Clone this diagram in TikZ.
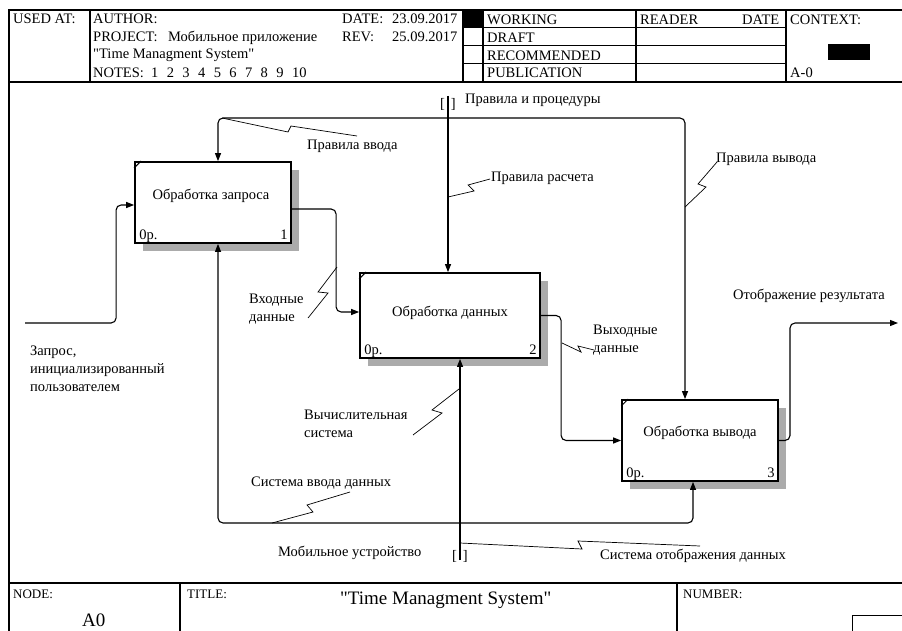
\documentclass[tikz,border=0pt]{standalone}
\usepackage{fontspec}
\setmainfont{Liberation Serif}[Ligatures=TeXOff]
\usetikzlibrary{arrows.meta,shadows}
\newcommand\lblfont{\fontsize{14.5}{18}\selectfont}
\newcommand\footfont{\fontsize{13}{15}\selectfont}
\newcommand\bigfont{\fontsize{19}{22}\selectfont}
\newcommand\qq{\char34\relax}
\newcommand\gp{\hspace{8.4pt}}
\tikzset{
  frame/.style={line width=1.2pt},
  thinline/.style={line width=1pt},
  fnbox/.style={draw, line width=1.8pt, fill=white, inner sep=0pt,
     general shadow={fill=black!33, shadow xshift=8pt, shadow yshift=-8pt}},
  arr/.style={line width=1.1pt, rounded corners=5pt, -{Triangle[length=8pt,width=6pt]}},
  zig/.style={line width=0.7pt},
  notch/.style={line width=1pt},
  txt/.style={font=\lblfont, inner sep=0pt, anchor=base west},
  mtxt/.style={font=\lblfont, inner sep=0pt, anchor=north west, align=left},
  ftxt/.style={font=\footfont, inner sep=0pt, anchor=base west},
  brk/.style={font=\lblfont, inner sep=0pt},
}
\begin{document}
\begin{tikzpicture}[x=1pt,y=-1pt]
\useasboundingbox (0,0) rectangle (902,631);
% ---------- frame ----------
\draw[frame] (9,640) -- (9,10) -- (910,10);
\draw[frame] (9,82) -- (910,82);
\draw[frame] (9,583) -- (910,583);
\draw[frame] (90,10) -- (90,82);
\draw[frame] (463,10) -- (463,82);
\draw[frame] (483,10) -- (483,82);
\draw[frame] (636,10) -- (636,82);
\draw[frame] (786,10) -- (786,82);
\foreach \yy in {28,46,64} \draw[thinline] (463,\yy) -- (786,\yy);
\fill (464,10) rectangle (483,28);
\fill (828,44) rectangle (870,60);
\draw[frame] (180,583) -- (180,640);
\draw[frame] (677,583) -- (677,640);
\draw[thinline] (852,640) |- (910,615);
% ---------- header texts ----------
\node[txt] (hused) at (13,24) {USED AT:};
\node[txt] (hauth) at (93,24) {AUTHOR:};
\node[txt] (hproj) at (93,42) {PROJECT:};
\node[txt] (hprojn) at (168,42) {Мобильное приложение};
\node[txt] (hproj2) at (93,59) {\qq Time Managment System\qq};
\node[txt] (hnotes) at (93,78) {NOTES:\ \ 1\gp 2\gp 3\gp 4\gp 5\gp 6\gp 7\gp 8\gp 9\gp 10};
\node[txt] (hdate) at (342,24) {DATE:};
\node[txt] (hdatev) at (392,24) {23.09.2017};
\node[txt] (hrev) at (342,42) {REV:};
\node[txt] (hrevv) at (392,42) {25.09.2017};
\node[txt] (hwork) at (487,25) {WORKING};
\node[txt] (hdraft) at (487,43) {DRAFT};
\node[txt] (hrec) at (487,61) {RECOMMENDED};
\node[txt] (hpub) at (487,78) {PUBLICATION};
\node[txt] (hread) at (640,25) {READER};
\node[txt] (hrdate) at (742,25) {DATE};
\node[txt] (hctx) at (790,25) {CONTEXT:};
\node[txt] (hctxa) at (790,78) {A-0};
% ---------- footer texts ----------
\node[ftxt] (fnode) at (13,598) {NODE:};
\node[txt, font=\bigfont] (fa0) at (82,626) {A0};
\node[ftxt] (ftitle) at (187,598) {TITLE:};
\node[txt, font=\bigfont] (ftitlev) at (340,604) {\qq Time Managment System\qq};
\node[ftxt] (fnum) at (683,598) {NUMBER:};
% ---------- function boxes ----------
\node[fnbox, minimum width=156pt, minimum height=81pt] (b1) at (213,202.5) {};
\node[fnbox, minimum width=180pt, minimum height=85pt] (b2) at (450,315.5) {};
\node[fnbox, minimum width=156pt, minimum height=81pt] (b3) at (700,440.5) {};
\foreach \b in {b1,b2,b3}
  \draw[notch] ([yshift=-7pt]\b.north west) -- ([xshift=7pt]\b.north west);
\node[txt, anchor=center] (t1) at (211,196) {Обработка запроса};
\node[txt, anchor=center] (t2) at (450,313) {Обработка данных};
\node[txt, anchor=center] (t3) at (700,433) {Обработка вывода};
\node[txt] (z1) at ([xshift=5pt,yshift=4pt]b1.south west) {0р.};
\node[txt] (z2) at ([xshift=5pt,yshift=4pt]b2.south west) {0р.};
\node[txt] (z3) at ([xshift=5pt,yshift=4pt]b3.south west) {0р.};
\node[txt, anchor=base east] (k1) at ([xshift=-4pt,yshift=4pt]b1.south east) {1};
\node[txt, anchor=base east] (k2) at ([xshift=-4pt,yshift=4pt]b2.south east) {2};
\node[txt, anchor=base east] (k3) at ([xshift=-4pt,yshift=4pt]b3.south east) {3};
% ---------- arrows ----------
\coordinate (inL) at (25,323);
\draw[arr] (inL) -| ([xshift=-18pt,yshift=-2.5pt]b1.west) -- ([yshift=-2.5pt]b1.west);
\draw[arr] ([yshift=-6.5pt]b1.east) -| ([xshift=-23pt,yshift=3.5pt]b2.west) -- ([yshift=3.5pt]b2.west);
\draw[arr] (b2.east) -| ([xshift=-60pt]b3.west) -- (b3.west);
\coordinate (outR) at (898,323);
\draw[arr] (b3.east) -| ([xshift=-108pt]outR) -- (outR);
% controls
\coordinate (ctop) at (448,96);
\coordinate (cj) at (448,118);
\node[brk] (tbr) at (448,104) {[\hspace{6pt}]};
\draw[arr] (ctop) -- (ctop |- b2.north);
\draw[arr] (cj) -| ([xshift=5pt]b1.north);
\draw[arr] (cj) -| ([xshift=-15pt]b3.north);
% mechanisms
\coordinate (mbot) at (460,560);
\coordinate (mj) at (460,523);
\node[brk] (bbr) at (460,556) {[\hspace{6pt}]};
\draw[arr] (mbot) -- (mbot |- b2.south);
\draw[arr] (mj) -| ([xshift=5pt]b1.south);
\draw[arr] (mj) -| ([xshift=-7pt]b3.south);
% ---------- labels ----------
\node[txt] (lpp) at (465,104) {Правила и процедуры};
\node[txt] (lpv) at (307,150) {Правила ввода};
\node[txt] (lpr) at (491,182) {Правила расчета};
\node[txt] (lpo) at (716,163) {Правила вывода};
\node[mtxt] (lvd) at (249,294) {Входные\\данные};
\node[txt] (lor) at (733,299) {Отображение результата};
\node[mtxt] (lvy) at (593,325) {Выходные\\данные};
\node[mtxt] (lzap) at (30,346) {Запрос,\\инициализированный\\пользователем};
\node[mtxt] (lvs) at (304,410) {Вычислительная\\система};
\node[txt] (lsv) at (251,486) {Система ввода данных};
\node[txt] (lmu) at (278,556) {Мобильное устройство};
\node[txt] (lso) at (600,559) {Система отображения данных};
% ---------- squiggles ----------
\draw[zig] (222,118) -- (288,132) -- (291,126) -- (357,136);
\draw[zig] (448,197) -- (474,191) -- (468,185) -- (490,179);
\draw[zig] (685,207) -- (706,187) -- (698,184) -- (717,162);
\draw[zig] (337,267) -- (318,292) -- (328,293) -- (308,318);
\draw[zig] (562,343) -- (581,352) -- (578,346) -- (594,350);
\draw[zig] (459,389) -- (432,410) -- (442,413) -- (413,435);
\draw[zig] (272,523) -- (313,512) -- (307,505) -- (350,492);
\draw[zig] (460,543) -- (582,549) -- (578,541) -- (700,546);
\end{tikzpicture}
\end{document}
